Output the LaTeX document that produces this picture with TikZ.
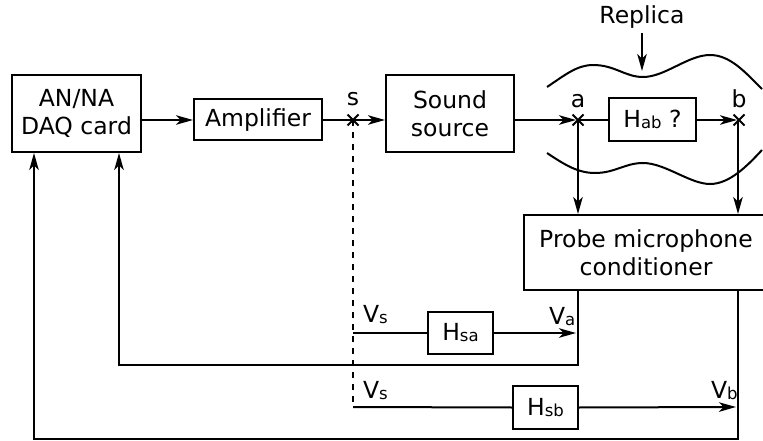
\documentclass[tikz,border=0pt]{standalone}
\usepackage{fontspec}
\setmainfont{DejaVu Sans}
\usetikzlibrary{arrows.meta}
\newcommand\subtx[1]{{\fontsize{16.5}{16.5}\selectfont\raisebox{-1pt}{#1}}}
\begin{document}
\begin{tikzpicture}[x=1pt,y=-1pt,
  font=\fontsize{23.5}{28}\selectfont,
  line width=2pt,
  box/.style={draw,line width=2pt,inner sep=0pt,align=center},
  arr/.style={-{Stealth[length=17pt,width=9.5pt,inset=4.5pt]}},
  lbl/.style={inner sep=0pt},
  xmark/.style={line width=2pt}]
\clip (0,0) rectangle (763,441);
% boxes
\node[box,minimum width=129pt,minimum height=77pt] (daq) at (76.5,113.5) {AN/NA\\DAQ card};
\node[box,minimum width=128pt,minimum height=41pt] (amp) at (258,120) {Amplifier};
\node[box,minimum width=128pt,minimum height=77pt] (src) at (450,113.5) {Sound\\source};
\node[box,minimum width=87pt,minimum height=43pt] (hab) at (652.5,119.5) {H\subtx{ab} ?};
\node[box,minimum width=244pt,minimum height=75pt] (probe) at (646,252.5) {Probe microphone\\conditioner};
\node[box,minimum width=65pt,minimum height=42pt] (hsa) at (460.5,333) {H\subtx{sa}};
\node[box,minimum width=65pt,minimum height=43pt] (hsb) at (545.5,407.5) {H\subtx{sb}};
% points
\coordinate (s) at (353,120);
\coordinate (a) at (578,120);
\coordinate (b) at (739,120);
\coordinate (sa) at (353,333);
\coordinate (sb) at (353,407);
\coordinate (va) at (576,333);
\coordinate (vb) at (736,407);
\coordinate (ra) at (642,33);
\coordinate (rb) at (642,71);
\coordinate (c1) at (578,365);
\coordinate (c2) at (119,365);
\coordinate (d1) at (738,439);
\coordinate (d2) at (34,439);
% labels
\node[lbl,anchor=base] (replica) at (642,24) {Replica};
\node[lbl,anchor=base] (sl) at (353,106) {s};
\node[lbl,anchor=base] (al) at (578,108) {a};
\node[lbl,anchor=base] (bl) at (739,108) {b};
\node[lbl,anchor=base west] (vs1) at (362,322) {V\subtx{s}};
\node[lbl,anchor=base west] (val) at (548,324) {V\subtx{a}};
\node[lbl,anchor=base west] (vs2) at (362,398) {V\subtx{s}};
\node[lbl,anchor=base west] (vbl) at (710,398) {V\subtx{b}};
% wavy replica outlines
\draw (547,87) .. controls (565,75) and (577,65) .. (593,65)
  .. controls (615,65) and (625,77) .. (643,77)
  .. controls (665,77) and (688,55) .. (710,55)
  .. controls (730,55) and (745,72) .. (762,89);
\draw (547,153) .. controls (565,165) and (578,173) .. (595,173)
  .. controls (615,173) and (625,163) .. (643,163)
  .. controls (665,163) and (690,184) .. (710,184)
  .. controls (730,184) and (748,165) .. (762,150);
% main chain
\draw[arr] (daq.east |- amp.west) -- (amp.west);
\draw[arr] (amp.east) -- (src.west |- amp.east);
\draw[arr] (src.east |- a) -- ([xshift=-2pt]a);
\draw (a) -- (hab.west |- a);
\draw[arr] (hab.east |- b) -- ([xshift=-2pt]b);
\draw[arr] (ra) -- (rb);
% crosses
\foreach \p in {s,a,b}{
  \draw[xmark] ([shift={(-5.5,-5.5)}]\p) -- ([shift={(5.5,5.5)}]\p)
               ([shift={(-5.5,5.5)}]\p) -- ([shift={(5.5,-5.5)}]\p);
}
% probes
\draw[arr] (a) -- (a |- probe.north);
\draw[arr] ([xshift=-1pt]b) -- ([xshift=-1pt]b |- probe.north);
% feedback paths
\draw[arr] (c1 |- probe.south) -- (c1) -- (c2) -- (c2 |- daq.south);
\draw[arr] (d1 |- probe.south) -- (d1) -- (d2) -- (d2 |- daq.south);
% reference paths
\draw[dash pattern=on 6pt off 6pt] (s) -- (sb);
\draw (sa) -- (hsa.west);
\draw[arr] (hsa.east) -- (va);
\draw (sb) -- (hsb.west);
\draw[arr] (hsb.east) -- (vb);
\end{tikzpicture}
\end{document}
